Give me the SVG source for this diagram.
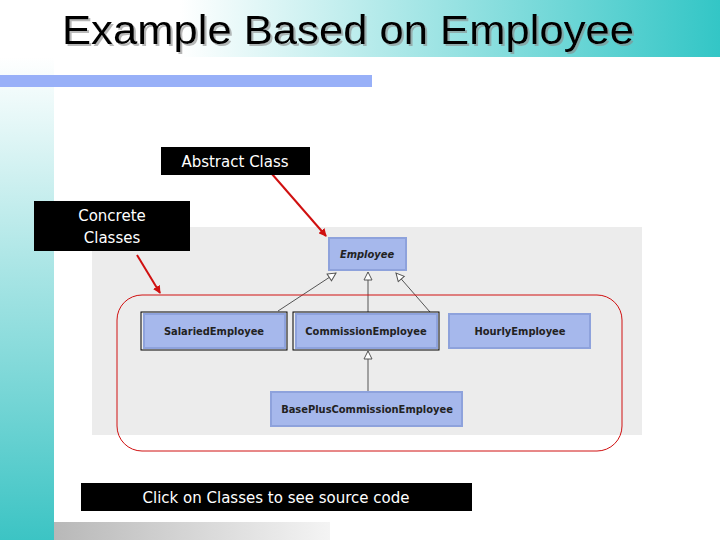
<svg xmlns="http://www.w3.org/2000/svg" width="720" height="540" viewBox="0 0 720 540">
<defs>
<linearGradient id="tg" x1="0" x2="1" y1="0" y2="0"><stop offset="0.25" stop-color="#ffffff"/><stop offset="1" stop-color="#33c6c6"/></linearGradient>
<linearGradient id="lg" x1="0" x2="0" y1="0" y2="1"><stop offset="0" stop-color="#ffffff"/><stop offset="1" stop-color="#3cc4c4"/></linearGradient>
<linearGradient id="bg" x1="0" x2="1"><stop offset="0" stop-color="#b8b8b8"/><stop offset="1" stop-color="#f4f4f4"/></linearGradient>
<filter id="sh" x="-5%" y="-20%" width="110%" height="140%"><feDropShadow dx="2" dy="2" stdDeviation="0.5" flood-color="#888" flood-opacity="0.6"/></filter>
<marker id="tri" markerWidth="10" markerHeight="10" refX="9" refY="5" orient="auto" markerUnits="userSpaceOnUse"><path d="M1,1 L9,5 L1,9 Z" fill="#fff" stroke="#555" stroke-width="1"/></marker>
<marker id="ra" markerWidth="8" markerHeight="8" refX="7" refY="4" orient="auto" markerUnits="userSpaceOnUse"><path d="M0,0 L8,4 L0,8 Z" fill="#d01010"/></marker>
</defs>
<style>
.cls{fill:#a6b8ec;stroke:#8ea2dc;stroke-width:2}
.ct{font-family:"DejaVu Sans Condensed","DejaVu Sans",sans-serif;font-size:11px;font-weight:bold;fill:#222;text-anchor:middle}
.lb{font-family:"DejaVu Sans",sans-serif;font-size:15px;fill:#fff;text-anchor:middle}
.inh{stroke:#555;stroke-width:1;fill:none;marker-end:url(#tri)}
.red{stroke:#d01010;stroke-width:2;marker-end:url(#ra)}
</style>
<rect width="720" height="540" fill="#fff"/>
<rect x="0" y="0" width="720" height="57" fill="url(#tg)"/>
<rect x="0" y="57" width="54" height="483" fill="url(#lg)"/>
<rect x="0" y="75" width="372" height="12" fill="#98b0f8"/>
<rect x="54" y="522" width="276" height="18" fill="url(#bg)"/>
<text x="62" y="44" font-family="Liberation Sans,Arial,sans-serif" font-size="40" fill="#000" textLength="572" lengthAdjust="spacingAndGlyphs" filter="url(#sh)">Example Based on Employee</text>
<rect x="92" y="227" width="550" height="208" fill="#ececec"/>
<g id="connectors">
<line class="inh" x1="278" y1="311" x2="336" y2="273"/>
<line class="inh" x1="368" y1="312" x2="368" y2="272"/>
<line class="inh" x1="430" y1="312" x2="396" y2="273"/>
<line class="inh" x1="368" y1="391" x2="368" y2="351"/>
<line class="red" x1="272" y1="174" x2="326" y2="236"/>
<line class="red" x1="137" y1="255" x2="160" y2="293"/>
</g>
<rect x="117" y="295" width="505" height="156" rx="25" fill="none" stroke="#d01010" stroke-width="1"/>
<g id="employee"><rect class="cls" x="329" y="238" width="77" height="32"/><text class="ct" x="367" y="258" font-style="italic">Employee</text></g>
<g id="salaried"><rect x="141" y="312" width="146" height="38" fill="none" stroke="#000"/><rect class="cls" x="144" y="314" width="141" height="34"/><text class="ct" x="214" y="335">SalariedEmployee</text></g>
<g id="commission"><rect x="293" y="312" width="146" height="38" fill="none" stroke="#000"/><rect class="cls" x="296" y="314" width="141" height="34"/><text class="ct" x="366" y="335">CommissionEmployee</text></g>
<g id="hourly"><rect class="cls" x="449" y="314" width="141" height="34"/><text class="ct" x="520" y="335">HourlyEmployee</text></g>
<g id="baseplus"><rect class="cls" x="271" y="392" width="191" height="34"/><text class="ct" x="367" y="413">BasePlusCommissionEmployee</text></g>
<g id="abstract"><rect x="161" y="147" width="149" height="28" fill="#000"/><text class="lb" x="235" y="167">Abstract Class</text></g>
<g id="concrete"><rect x="34" y="201" width="156" height="50" fill="#000"/><text class="lb" x="112" y="221">Concrete</text><text class="lb" x="112" y="243">Classes</text></g>
<g id="click"><rect x="81" y="483" width="391" height="28" fill="#000"/><text class="lb" x="276" y="503">Click on Classes to see source code</text></g>
</svg>
